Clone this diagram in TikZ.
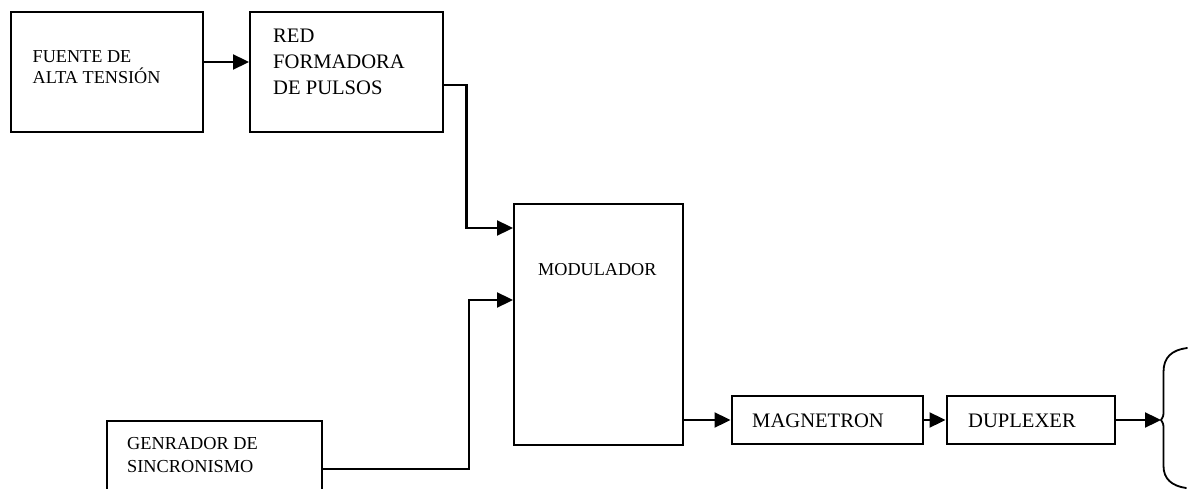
\documentclass[tikz,border=0pt]{standalone}
\usepackage{fontspec}
\setmainfont{Liberation Serif}
\usetikzlibrary{arrows.meta}
\begin{document}
\begin{tikzpicture}[x=1pt,y=-1pt,
  blockbox/.style={draw=black,line width=2pt,rectangle,inner sep=0pt},
  label12/.style={anchor=north west,inner sep=0pt,align=left,font=\fontsize{18.2}{21.6}\selectfont},
  label14/.style={anchor=north west,inner sep=0pt,align=left,font=\fontsize{20.6}{26}\selectfont},
  arr/.style={line width=2.3pt,-{Triangle[length=16pt,width=15pt]}}]
% page frame
\fill[white] (0,0) rectangle (1189,489);
\useasboundingbox (0,0) rectangle (1189,489);
\clip (0,0) rectangle (1189,489);

% blocks
\node[blockbox,minimum width=191.5pt,minimum height=120pt] (fuente) at (106.75,72) {};
\node[blockbox,minimum width=193pt,minimum height=120pt] (red) at (346.5,72) {};
\node[blockbox,minimum width=169pt,minimum height=241pt] (mod) at (598.5,324.5) {};
\node[blockbox,minimum width=191pt,minimum height=48pt] (mag) at (827,420) {};
\node[blockbox,minimum width=168pt,minimum height=48pt] (dup) at (1030.5,420) {};
\node[blockbox,minimum width=215.5pt,minimum height=96pt] (gen) at (214.5,469) {};

% block texts
\node[label12] (tfuente) at (32.5,50) {FUENTE DE\\ALTA TENSIÓN};
\node[label14] (tred) at (273,29.3) {RED\\FORMADORA\\DE PULSOS};
\node[label12] (tmod) at (538,263) {MODULADOR};
\node[label14] (tmag) at (752,414) {MAGNETRON};
\node[label14] (tdup) at (968,414) {DUPLEXER};
\node[label12,font=\fontsize{18.3}{23}\selectfont] (tgen) at (127,437) {GENRADOR DE\\SINCRONISMO};

% connectors
\draw[arr] ([yshift=10pt]fuente.east) -- ([yshift=10pt]red.west);
\draw[arr] ([yshift=-13pt]red.east) -- ++(22.5,0) |- ([yshift=96.5pt]mod.west);
\draw[arr] (gen.east) -- ++(145.5,0) |- ([yshift=24.5pt]mod.west);
\draw[arr] ([yshift=-95.5pt]mod.east) -- (mag.west);
\draw[arr] (mag.east) -- (dup.west);
\coordinate (brtip) at (1161,420);
\draw[arr] (dup.east) -- (brtip);

% antenna brace
\draw[line width=1.8pt,line cap=round]
  (1187,348) .. controls (1172,350) and (1163.5,357) .. (1163.5,372)
  -- (1163.5,410) .. controls (1163.5,416) .. (brtip)
  .. controls (1163.5,424) .. (1163.5,430)
  -- (1163.5,466) .. controls (1163.5,479) and (1172,486) .. (1186,488);
\end{tikzpicture}
\end{document}
